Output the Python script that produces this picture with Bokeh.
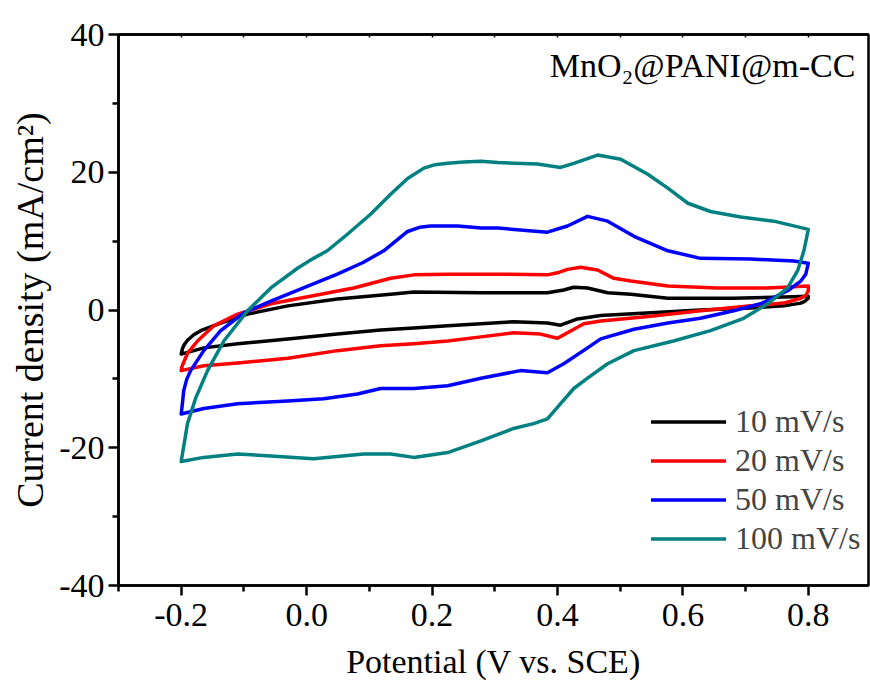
from bokeh.plotting import figure
from bokeh.models import (FixedTicker, PrintfTickFormatter, Legend, LegendItem,
                          Label, LinearAxis, Range1d, CustomJSTickFormatter)
from bokeh.embed import file_html
from bokeh.resources import INLINE

# ---- data (potential V vs SCE, current density mA/cm2) ----
v10_up = [-0.200, -0.198, -0.195, -0.190, -0.180, -0.169, -0.137, -0.094, -0.030, 0.049, 0.134, 0.171, 0.278,
          0.384, 0.410, 0.426, 0.448, 0.480, 0.517, 0.576, 0.681, 0.761, 0.800]
i10_up = [-6.4, -5.6, -5.0, -4.4, -3.6, -3.0, -1.9, -0.6, 0.6, 1.6, 2.3, 2.6, 2.5,
          2.5, 2.9, 3.3, 3.2, 2.5, 2.3, 1.7, 1.7, 1.9, 2.0]
v10_dn = [0.800, 0.795, 0.788, 0.761, 0.708, 0.628, 0.549, 0.469, 0.432, 0.405, 0.384,
          0.330, 0.278, 0.225, 0.171, 0.118, 0.049, -0.030, -0.110, -0.164, -0.200]
i10_dn = [1.7, 1.3, 1.0, 0.6, 0.3, 0.0, -0.4, -0.8, -1.3, -2.2, -1.9,
          -1.7, -2.0, -2.3, -2.6, -2.9, -3.5, -4.2, -4.9, -5.5, -6.4]

v20_up = [-0.200, -0.199, -0.197, -0.190, -0.182, -0.174, -0.148, -0.110, -0.057, 0.006, 0.075, 0.134, 0.171,
          0.225, 0.305, 0.384, 0.400, 0.416, 0.437, 0.464, 0.490, 0.517, 0.576, 0.655, 0.735, 0.800]
i20_up = [-8.8, -8.3, -7.8, -6.3, -5.4, -4.5, -2.3, -0.6, 0.9, 2.0, 3.2, 4.6, 5.1,
          5.2, 5.2, 5.1, 5.4, 5.9, 6.2, 5.8, 4.6, 4.2, 3.5, 3.2, 3.2, 3.5]
v20_dn = [0.800, 0.796, 0.788, 0.761, 0.708, 0.628, 0.549, 0.469, 0.442, 0.416, 0.400,
          0.373, 0.330, 0.278, 0.225, 0.171, 0.118, 0.049, -0.030, -0.110, -0.164, -0.200]
i20_dn = [2.8, 2.1, 1.7, 1.0, 0.6, -0.1, -0.9, -1.6, -2.0, -3.3, -4.1,
          -3.5, -3.3, -3.9, -4.5, -4.9, -5.2, -5.9, -7.0, -7.7, -8.1, -8.8]

v50_up = [-0.200, -0.198, -0.196, -0.191, -0.185, -0.164, -0.137, -0.100, -0.057, -0.005, 0.049, 0.090, 0.123,
          0.161, 0.180, 0.198, 0.241, 0.278, 0.305, 0.384, 0.416, 0.448, 0.480, 0.522,
          0.576, 0.628, 0.708, 0.777, 0.800]
i50_up = [-15.1, -13.5, -11.7, -10.0, -8.8, -5.9, -3.0, -0.4, 1.3, 3.2, 5.2, 6.9, 8.6,
          11.4, 12.0, 12.2, 12.2, 11.9, 11.9, 11.3, 12.2, 13.6, 12.9, 10.7,
          8.6, 7.5, 7.4, 7.1, 6.8]
v50_dn = [0.800, 0.796, 0.788, 0.767, 0.724, 0.681, 0.628, 0.576, 0.522, 0.469,
          0.448, 0.410, 0.384, 0.341, 0.278, 0.225, 0.171, 0.118, 0.081, 0.027,
          -0.030, -0.110, -0.164, -0.200]
i50_dn = [6.8, 5.2, 4.2, 2.8, 0.9, -0.1, -1.2, -1.9, -2.8, -4.2,
          -5.5, -7.8, -9.1, -8.8, -9.9, -11.0, -11.4, -11.4, -12.2, -12.9,
          -13.2, -13.6, -14.3, -15.1]

v100_up = [-0.200, -0.190, -0.177, -0.158, -0.132, -0.094, -0.057, -0.014, 0.011, 0.033,
           0.065, 0.102, 0.134, 0.161, 0.187, 0.205, 0.225, 0.250, 0.278, 0.305, 0.368, 0.405,
           0.426, 0.464, 0.501, 0.544, 0.576, 0.608, 0.644, 0.692, 0.745, 0.800]
i100_up = [-22.0, -16.5, -12.8, -8.8, -4.5, -0.1, 3.2, 6.1, 7.5, 8.6,
           11.0, 13.9, 16.8, 19.1, 20.6, 21.1, 21.3, 21.5, 21.6, 21.4, 21.2, 20.7,
           21.3, 22.5, 21.9, 19.7, 17.7, 15.5, 14.3, 13.5, 12.9, 11.7]
v100_dn = [0.800, 0.793, 0.783, 0.767, 0.735, 0.697, 0.644, 0.585, 0.522, 0.480,
           0.448, 0.426, 0.405, 0.384, 0.362, 0.330, 0.278, 0.225, 0.171, 0.134,
           0.091, 0.011, -0.057, -0.110, -0.164, -0.200]
i100_dn = [11.7, 8.6, 5.7, 3.2, 0.9, -1.2, -3.0, -4.5, -5.9, -7.8,
           -9.9, -11.4, -13.6, -15.8, -16.5, -17.2, -19.0, -20.7, -21.4, -20.9,
           -20.9, -21.6, -21.2, -20.9, -21.4, -22.0]

series_labels = ["10 mV/s", "20 mV/s", "50 mV/s", "100 mV/s"]
series_colors = ["#000000", "#ff0000", "#0000ff", "#008080"]
series_v = [v10_up + v10_dn, v20_up + v20_dn, v50_up + v50_dn, v100_up + v100_dn]
series_i = [i10_up + i10_dn, i20_up + i20_dn, i50_up + i50_dn, i100_up + i100_dn]

x_major = [-0.2, 0.0, 0.2, 0.4, 0.6, 0.8]
x_minor = [-0.3, -0.1, 0.1, 0.3, 0.5, 0.7, 0.9]
y_major = [-40, -20, 0, 20, 40]
y_minor = [-30, -10, 10, 30]

FONT = "Liberation Serif"

p = figure(width=870, height=686,
           x_range=Range1d(-0.3, 0.896), y_range=Range1d(-40, 40),
           output_backend="svg", toolbar_location=None,
           min_border_left=118, min_border_right=2,
           min_border_top=34, min_border_bottom=101)

p.xgrid.visible = False
p.ygrid.visible = False
p.outline_line_color = "black"
p.outline_line_width = 2.5
p.background_fill_color = "white"

renderers = []
for vs, cs, col in zip(series_v, series_i, series_colors):
    r = p.line(vs, cs, line_color=col, line_width=3.5, line_join="round", line_cap="round")
    renderers.append(r)

xa = p.xaxis[0]
xa.ticker = FixedTicker(ticks=x_major, minor_ticks=x_minor)
xa.formatter = PrintfTickFormatter(format="%.1f")
xa.axis_label = "Potential (V vs. SCE)"
ya = p.yaxis[0]
ya.ticker = FixedTicker(ticks=y_major, minor_ticks=y_minor)
ya.formatter = PrintfTickFormatter(format="%d")
ya.axis_label = "Current density (mA/cm²)"

for ax in (xa, ya):
    ax.axis_line_width = 2.5
    ax.major_tick_line_width = 2.5
    ax.minor_tick_line_width = 2.5
    ax.major_tick_in = 0
    ax.major_tick_out = 10
    ax.minor_tick_in = 0
    ax.minor_tick_out = 6
    ax.major_label_text_font = FONT
    ax.major_label_text_font_size = "34px"
    ax.major_label_text_color = "black"
    ax.axis_label_text_font = FONT
    ax.axis_label_text_font_size = "34px"
    ax.axis_label_text_font_style = "normal"
    ax.axis_label_text_color = "black"
xa.major_label_standoff = 8
xa.axis_label_standoff = 14
ya.major_label_standoff = 4
ya.axis_label_standoff = 5
ya.axis_label_text_font_size = "38px"

top = LinearAxis(ticker=FixedTicker(ticks=x_major + x_minor, minor_ticks=[]),
                 formatter=CustomJSTickFormatter(code="return ''"),
                 axis_line_width=2.5, major_tick_line_width=1.5,
                 major_tick_in=3, major_tick_out=0,
                 minor_tick_in=0, minor_tick_out=0, major_label_standoff=0)
p.add_layout(top, "above")

legend = Legend(items=[LegendItem(label=l, renderers=[r]) for l, r in zip(series_labels, renderers)],
                location=(533, 27), border_line_color=None, background_fill_alpha=0,
                padding=0, spacing=0, margin=0,
                label_text_font=FONT, label_text_font_size="32px",
                glyph_width=75, glyph_height=39, label_height=39, label_standoff=9)
p.add_layout(legend)

p.add_layout(Label(x=0.875, y=35.5, text="MnO₂@PANI@m-CC", text_align="right",
                   text_baseline="alphabetic", text_font=FONT, text_font_size="34px",
                   text_color="black"))

open("out.html", "w").write(file_html(p, INLINE))
